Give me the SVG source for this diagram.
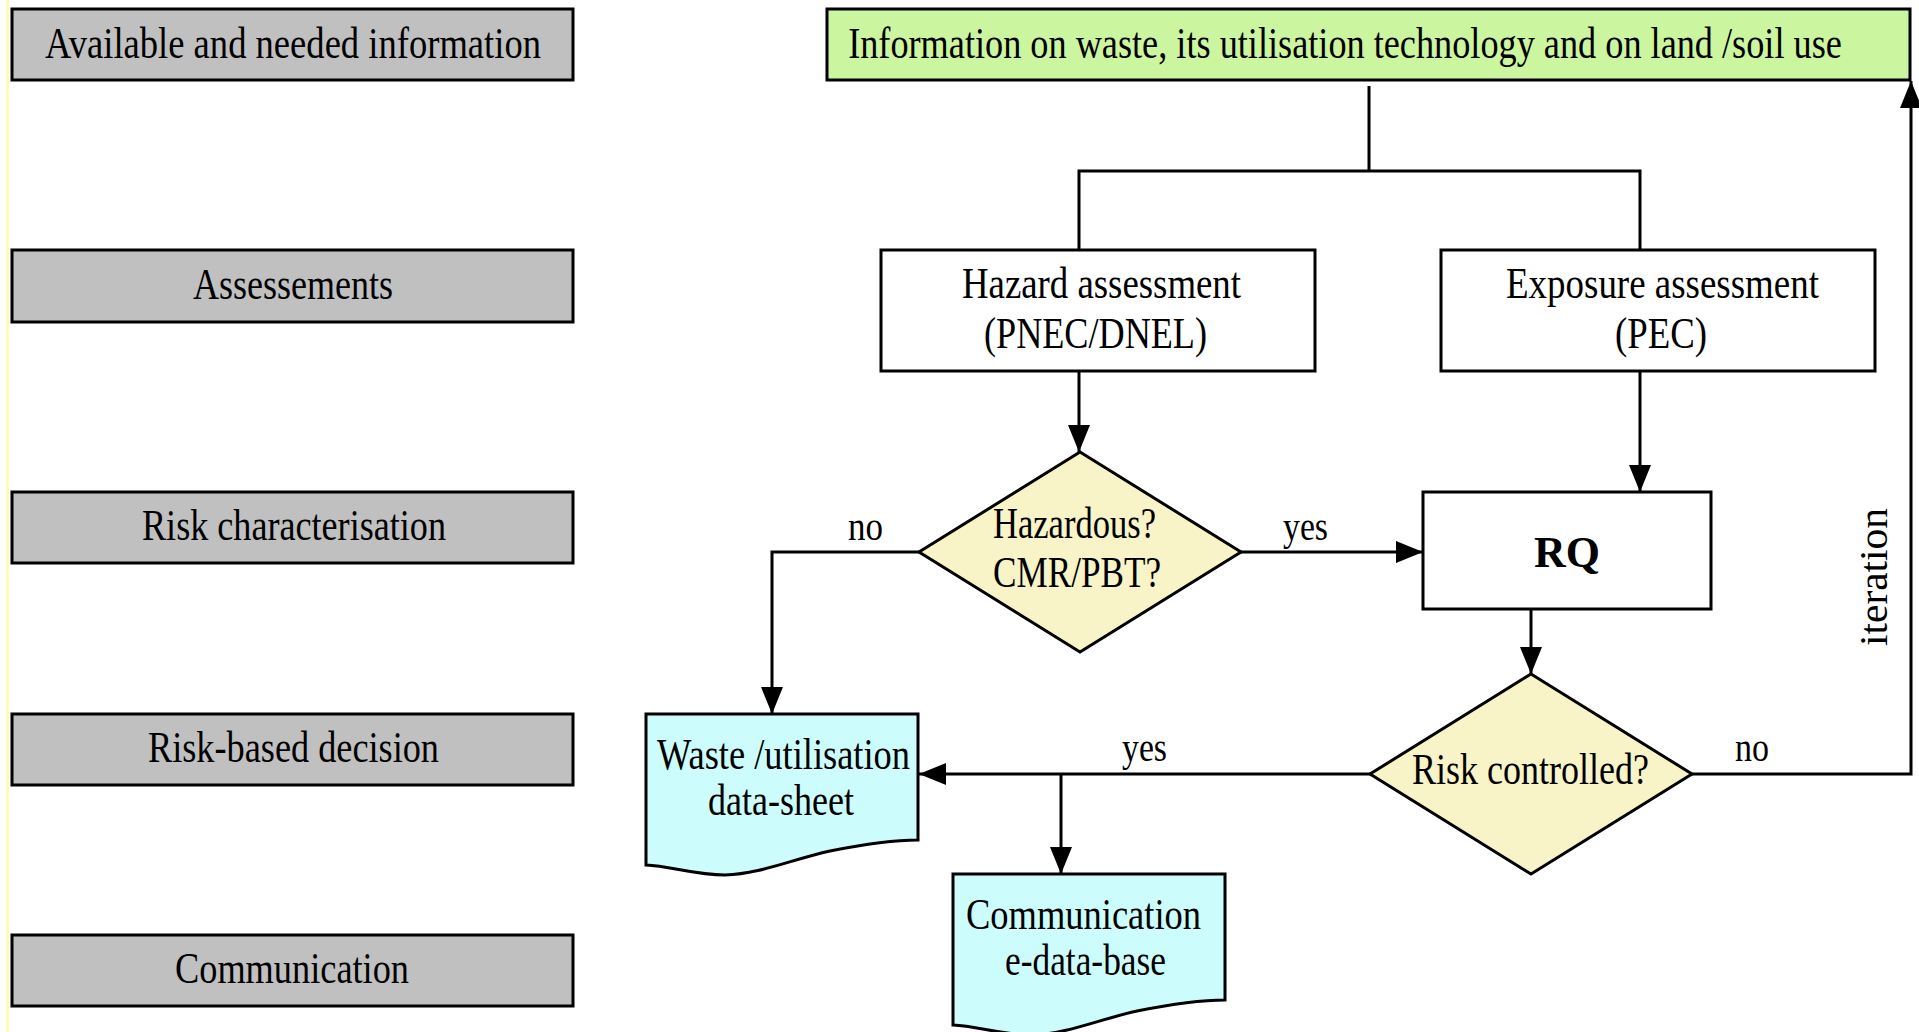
<svg xmlns="http://www.w3.org/2000/svg" width="1919" height="1032" viewBox="0 0 1919 1032">
  <defs>
    <marker id="arrow" markerUnits="userSpaceOnUse" markerWidth="28" markerHeight="22" refX="27" refY="11" orient="auto">
      <path d="M0,0 L27,11 L0,22 Z" fill="#000"/>
    </marker>
    <path id="docshape" d="M0,0 H272 V126 C244,126 214,131 184,137 C144,146 114,160 79,161 C49,161 24,152 0,151 Z"/>
  </defs>
  <style>
    text { font-family: "Liberation Serif", "Times New Roman", serif; font-size: 44px; fill: #000; }
    .lane { fill: #c0c0c0; stroke: #000; stroke-width: 3; }
    .box { fill: #fff; stroke: #000; stroke-width: 3; }
    .info { fill: #ccf5a0; stroke: #000; stroke-width: 3; }
    .decision { fill: #f8f4c8; stroke: #000; stroke-width: 3; }
    .doc { fill: #ccfcfc; stroke: #000; stroke-width: 3; }
    .conn { fill: none; stroke: #000; stroke-width: 3; }
    .lbl { font-size: 40px; }
  </style>

  <rect width="1919" height="1032" fill="#fff"/>
  <rect x="6" y="0" width="3" height="1032" fill="#fffbb8"/>

  <!-- swim-lane headings -->
  <g id="lane-info">
    <rect class="lane" x="12" y="9" width="561" height="71"/>
    <text x="45" y="58" textLength="496" lengthAdjust="spacingAndGlyphs">Available and needed information</text>
  </g>
  <g id="lane-assessments">
    <rect class="lane" x="12" y="250" width="561" height="72"/>
    <text x="193" y="299" textLength="200" lengthAdjust="spacingAndGlyphs">Assessements</text>
  </g>
  <g id="lane-risk">
    <rect class="lane" x="12" y="492" width="561" height="71"/>
    <text x="142" y="540" textLength="304" lengthAdjust="spacingAndGlyphs">Risk characterisation</text>
  </g>
  <g id="lane-decision">
    <rect class="lane" x="12" y="714" width="561" height="71"/>
    <text x="148" y="762" textLength="291" lengthAdjust="spacingAndGlyphs">Risk-based decision</text>
  </g>
  <g id="lane-communication">
    <rect class="lane" x="12" y="935" width="561" height="71"/>
    <text x="175" y="983" textLength="234" lengthAdjust="spacingAndGlyphs">Communication</text>
  </g>

  <!-- flow nodes -->
  <g id="info-input">
    <rect class="info" x="827" y="9" width="1083" height="71"/>
    <text transform="translate(1345,58) scale(0.84,1)" font-size="43" text-anchor="middle" textLength="1183" lengthAdjust="spacingAndGlyphs">Information on waste, its utilisation technology and on land /soil use</text>
  </g>
  <g id="hazard-assessment">
    <rect class="box" x="881" y="250" width="434" height="121"/>
    <text x="962" y="298" textLength="279" lengthAdjust="spacingAndGlyphs">Hazard assessment</text>
    <text x="984" y="348" textLength="223" lengthAdjust="spacingAndGlyphs">(PNEC/DNEL)</text>
  </g>
  <g id="exposure-assessment">
    <rect class="box" x="1441" y="250" width="434" height="121"/>
    <text x="1506" y="298" textLength="313" lengthAdjust="spacingAndGlyphs">Exposure assessment</text>
    <text x="1615" y="348" textLength="92" lengthAdjust="spacingAndGlyphs">(PEC)</text>
  </g>
  <g id="hazardous-check">
    <polygon class="decision" points="1080,452 1241,552 1080,652 919,552"/>
    <text x="993" y="538" textLength="163" lengthAdjust="spacingAndGlyphs">Hazardous?</text>
    <text x="993" y="587" textLength="168" lengthAdjust="spacingAndGlyphs">CMR/PBT?</text>
  </g>
  <g id="rq">
    <rect class="box" x="1423" y="492" width="288" height="117"/>
    <text x="1567" y="567" text-anchor="middle" font-weight="bold">RQ</text>
  </g>
  <g id="risk-controlled">
    <polygon class="decision" points="1531,674 1692,774 1531,874 1370,774"/>
    <text x="1412" y="784" textLength="237" lengthAdjust="spacingAndGlyphs">Risk controlled?</text>
  </g>
  <g id="data-sheet">
    <use href="#docshape" class="doc" x="646" y="714"/>
    <text x="657" y="769" textLength="253" lengthAdjust="spacingAndGlyphs">Waste /utilisation</text>
    <text x="708" y="815" textLength="146" lengthAdjust="spacingAndGlyphs">data-sheet</text>
  </g>
  <g id="e-data-base">
    <use href="#docshape" class="doc" x="953" y="874"/>
    <text x="966" y="929" textLength="235" lengthAdjust="spacingAndGlyphs">Communication</text>
    <text x="1005" y="975" textLength="161" lengthAdjust="spacingAndGlyphs">e-data-base</text>
  </g>

  <!-- connectors -->
  <g id="connectors">
    <path class="conn" d="M1369,86 V171"/>
    <path class="conn" d="M1079,250 V171 H1640 V250"/>
    <path class="conn" d="M1079,371 V452" marker-end="url(#arrow)"/>
    <path class="conn" d="M1640,371 V492" marker-end="url(#arrow)"/>
    <path class="conn" d="M1241,552 H1423" marker-end="url(#arrow)"/>
    <path class="conn" d="M919,552 H772 V714" marker-end="url(#arrow)"/>
    <path class="conn" d="M1531,609 V674" marker-end="url(#arrow)"/>
    <path class="conn" d="M1370,774 H919" marker-end="url(#arrow)"/>
    <path class="conn" d="M1061,774 V874" marker-end="url(#arrow)"/>
    <path class="conn" d="M1692,774 H1911 V81" marker-end="url(#arrow)"/>
    <text class="lbl" x="848" y="540" textLength="35" lengthAdjust="spacingAndGlyphs">no</text>
    <text class="lbl" x="1283" y="540" textLength="45" lengthAdjust="spacingAndGlyphs">yes</text>
    <text class="lbl" x="1122" y="761" textLength="45" lengthAdjust="spacingAndGlyphs">yes</text>
    <text class="lbl" x="1735" y="761" textLength="34" lengthAdjust="spacingAndGlyphs">no</text>
    <text class="lbl" transform="translate(1887,577) rotate(-90)" x="-69" y="0" textLength="138" lengthAdjust="spacingAndGlyphs">iteration</text>
  </g>
</svg>
